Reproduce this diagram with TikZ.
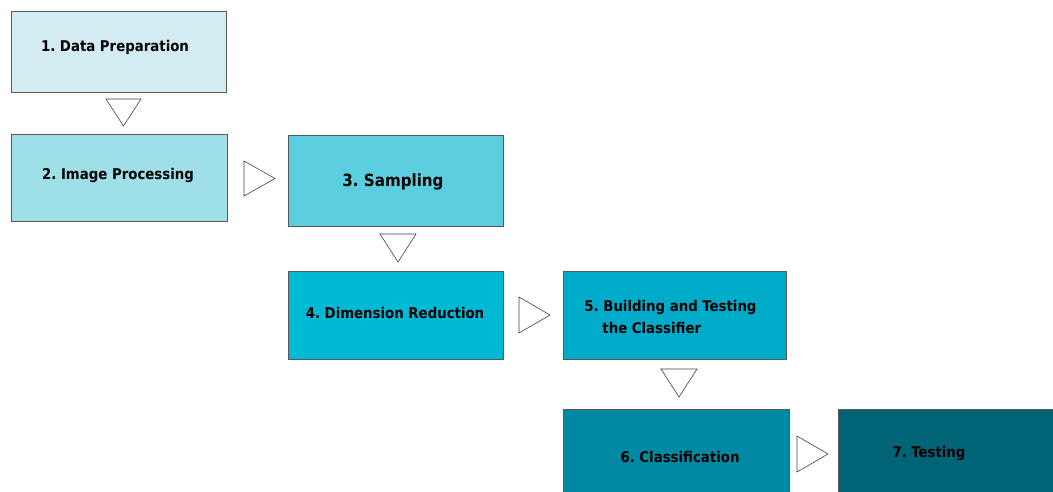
\documentclass[tikz,border=0pt]{standalone}
\usepackage{fontspec}
\newfontfamily\boxfont{DejaVu Sans Condensed}
\frenchspacing
\begin{document}
\begin{tikzpicture}[x=1pt,y=-1pt,
  stage/.style={draw=black!65,line width=0.8pt,inner sep=0pt,font=\boxfont\bfseries\fontsize{14.8}{18}\selectfont,text=black},
  tri/.style={draw=black!75,line width=0.6pt,fill=white},
]
\useasboundingbox (0,0) rectangle (1053,492);
\definecolor{c1}{HTML}{D3ECF1}
\definecolor{c2}{HTML}{9EDFE8}
\definecolor{c3}{HTML}{5BCFE0}
\definecolor{c4}{HTML}{00B9D4}
\definecolor{c5}{HTML}{00ABC9}
\definecolor{c6}{HTML}{0089A2}
\definecolor{c7}{HTML}{006477}
% boxes
\draw[stage,fill=c1] (11,11) rectangle (226,92);
\node[stage,draw=none] (t1) at (115,47.5) {1. Data Preparation};
\draw[stage,fill=c2] (11,134) rectangle (227,221);
\node[stage,draw=none] (t2) at (118,175.5) {2. Image Processing};
\draw[stage,fill=c3] (288,135) rectangle (503,226);
\node[stage,draw=none,font=\boxfont\bfseries\fontsize{16.8}{20}\selectfont] (t3) at (393,181.5) {3. Sampling};
\draw[stage,fill=c4] (288,271) rectangle (503,359);
\node[stage,draw=none] (t4) at (395,312.5) {4. Dimension Reduction};
\draw[stage,fill=c5] (563,271) rectangle (786,359);
\node[stage,draw=none,anchor=west] (t5a) at (584,307.5) {5. Building and Testing};
\node[stage,draw=none,anchor=west] (t5b) at (602,327.5) {the Classifier};
\draw[stage,fill=c6] (563,409) rectangle (789,495);
\node[stage,draw=none] (t6) at (680,456.5) {6. Classification};
\draw[stage,fill=c7] (838,409) rectangle (1056,495);
\node[stage,draw=none] (t7) at (929,453.5) {7. Testing};
% triangles
\draw[tri] (106,99) -- (141,99) -- (123.5,126) -- cycle;
\draw[tri] (244,161) -- (275,178.5) -- (244,196) -- cycle;
\draw[tri] (380,234) -- (416,234) -- (398,262) -- cycle;
\draw[tri] (519,297) -- (550,315) -- (519,333) -- cycle;
\draw[tri] (661,369) -- (697,369) -- (679,397) -- cycle;
\draw[tri] (797,436) -- (828,454) -- (797,472) -- cycle;
\end{tikzpicture}
\end{document}
